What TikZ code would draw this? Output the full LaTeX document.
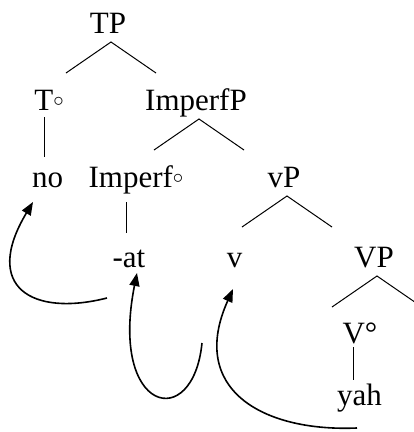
\documentclass[tikz,border=0pt]{standalone}
\usepackage{fontspec}
\setmainfont{Liberation Serif}
\usetikzlibrary{arrows.meta}
\newcommand{\hdc}{\raisebox{4pt}{$\scriptstyle\circ$}}

\begin{document}
\begin{tikzpicture}[x=1pt,y=-1pt,
	word/.style={anchor=base,inner sep=0pt,text height=21pt,text depth=7pt,font=\fontsize{31}{36}\selectfont},
	branch/.style={line width=1pt},
	move/.style={line width=1.6pt,-{Triangle[length=13pt,width=10pt]}}]
	\useasboundingbox (0,0) rectangle (414,432);

	\node[word] (TP) at (108,33) {TP};
	\node[word] (T) at (49,110) {T\hdc};
	\node[word] (ImperfP) at (196,110) {ImperfP};
	\node[word] (no) at (47.5,187) {no};
	\node[word] (Imperf) at (136,187) {Imperf\hdc};
	\node[word] (vP) at (284,187) {vP};
	\node[word] (at) at (129,267) {-at};
	\node[word] (v) at (234.5,267) {v};
	\node[word] (VP) at (374,267) {VP};
	\node[word] (V) at (360,343) {V°};
	\node[word] (yah) at (359.5,405) {yah};

	\foreach \p in {TP,ImperfP,vP,VP}
		\draw[branch] ([shift={(-42,40)}]\p.base) -- ([shift={(3,9)}]\p.base) -- ([shift={(48,40)}]\p.base);

	\draw[branch] ([shift={(-5,7)}]T.base) -- ([shift={(-3.5,-30)}]no.base);
	\draw[branch] ([shift={(-10,15)}]Imperf.base) -- ([shift={(-3,-34)}]at.base);
	\draw[branch] ([shift={(-7,4)}]V.base) -- ([shift={(-6.5,-25)}]yah.base);

	\draw[move] ([shift={(-22,31)}]at.base) .. controls +(-75,19) and +(-51,85) .. ([shift={(-14.5,15)}]no.base);
	\draw[move] ([shift={(-32.5,76)}]v.base) .. controls +(-9,90) and +(-28,140) .. ([shift={(8,6)}]at.base);
	\draw[move] ([shift={(-2.5,23)}]yah.base) .. controls +(-95,4) and +(-45,100) .. ([shift={(-1.5,22)}]v.base);
\end{tikzpicture}
\end{document}
